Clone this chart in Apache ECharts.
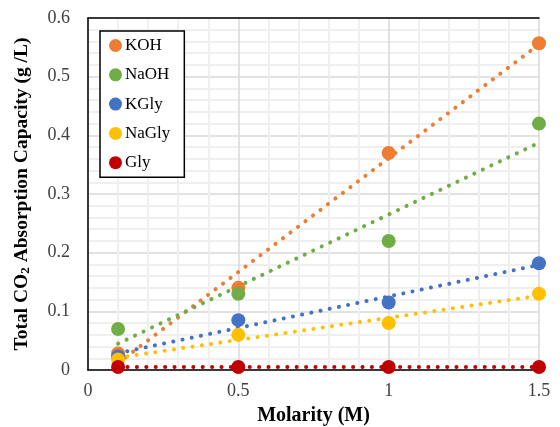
<!DOCTYPE html>
<html><head><meta charset="utf-8">
<script src="https://cdn.jsdelivr.net/npm/echarts@6/dist/echarts.min.js"></script>
<style>html,body{margin:0;padding:0;background:#fff}#c{width:560px;height:427px}</style>
</head><body><div id="c"></div>
<script>
const molarity = [0.1, 0.5, 1.0, 1.5];
const seriesNames = ['KOH', 'NaOH', 'KGly', 'NaGly', 'Gly'];
const KOH = [0.028, 0.14, 0.37, 0.557];
const NaOH = [0.07, 0.13, 0.22, 0.42];
const KGly = [0.023, 0.085, 0.115, 0.182];
const NaGly = [0.018, 0.06, 0.08, 0.13];
const Gly = [0.005, 0.005, 0.005, 0.005];
const colors = ['#ED7D31', '#70AD47', '#4472C4', '#FFC000', '#C00000'];
const xTicks = [0, 0.5, 1, 1.5];
const yTicks = [0, 0.1, 0.2, 0.3, 0.4, 0.5, 0.6];

const values = [KOH, NaOH, KGly, NaGly, Gly];
function fit(xs, ys) {
  const n = xs.length;
  const mx = xs.reduce((a, b) => a + b, 0) / n;
  const my = ys.reduce((a, b) => a + b, 0) / n;
  let sxy = 0, sxx = 0;
  for (let i = 0; i < n; i++) { sxy += (xs[i] - mx) * (ys[i] - my); sxx += (xs[i] - mx) ** 2; }
  const m = sxy / sxx, b = my - m * mx;
  return [[xs[0], m * xs[0] + b], [xs[n - 1], m * xs[n - 1] + b]];
}
const serif = '"Liberation Serif", "Times New Roman", serif';
const series = [];
values.forEach((v, i) => {
  series.push({
    name: seriesNames[i] + ' trend', type: 'line', data: fit(molarity, v), symbol: 'none', z: 2,
    lineStyle: { color: colors[i], width: 4, type: [0.1, 9.3], cap: 'round' }, silent: true
  });
});
values.forEach((v, i) => {
  series.push({
    name: seriesNames[i], type: 'scatter', data: molarity.map((x, j) => [x, v[j]]),
    symbolSize: 14, itemStyle: { color: colors[i], opacity: 1 }, z: 3
  });
});

const chart = echarts.init(document.getElementById('c'), null, { renderer: 'canvas' });
chart.setOption({
  animation: false,
  color: colors,
  grid: { left: 88, right: 21, top: 18, bottom: 57, containLabel: false, outerBoundsMode: 'none' },
  legend: {
    data: seriesNames, orient: 'vertical', left: 100, top: 31,
    backgroundColor: '#fff', borderColor: '#000', borderWidth: 1.5,
    padding: [6, 14, 6, 9], itemGap: 12.3, itemWidth: 13, itemHeight: 14, icon: 'circle',
    textStyle: { fontFamily: serif, fontSize: 17, color: '#000', padding: [0, 0, 0, -2] }
  },
  xAxis: [{
    type: 'value', min: 0, max: 1.5, interval: 0.5,
    name: 'Molarity (M)', nameLocation: 'middle', nameGap: 36,
    nameTextStyle: { fontFamily: serif, fontSize: 20, fontWeight: 'bold', color: '#000' },
    axisLine: { show: true, lineStyle: { color: '#000', width: 1.5 } },
    axisTick: { show: false },
    axisLabel: { fontFamily: serif, fontSize: 18, color: '#404040', margin: 12 },
    splitLine: { show: true, lineStyle: { color: '#d9d9d9', width: 1.5 } },
    minorTick: { show: false, splitNumber: 5 },
    minorSplitLine: { show: true, lineStyle: { color: '#efefef', width: 2 } }
  }, {
    type: 'value', min: 0, max: 1.5, position: 'top',
    axisLine: { show: true, onZero: false, lineStyle: { color: '#000', width: 1.5 } },
    axisTick: { show: false }, axisLabel: { show: false }, splitLine: { show: false }
  }],
  yAxis: {
    type: 'value', min: 0, max: 0.6, interval: 0.1,
    name: '{a|Total CO}{s|2}{a| Absorption Capacity (g /L)}', nameLocation: 'middle', nameGap: 56, nameRotate: 90,
    nameTextStyle: {
      rich: {
        a: { fontFamily: serif, fontSize: 19.5, fontWeight: 'bold', color: '#000' },
        s: { fontFamily: serif, fontSize: 13, fontWeight: 'bold', color: '#000', verticalAlign: 'bottom', padding: [7, 0, 0, 0] }
      }
    },
    axisLine: { show: true, lineStyle: { color: '#000', width: 1.5 } },
    axisTick: { show: false },
    axisLabel: { fontFamily: serif, fontSize: 18, color: '#404040', margin: 18, formatter: v => String(+v.toFixed(1)) },
    splitLine: { show: true, lineStyle: { color: '#d9d9d9', width: 1.5 } },
    minorTick: { show: false, splitNumber: 5 },
    minorSplitLine: { show: true, lineStyle: { color: '#efefef', width: 2 } }
  },
  series: series
});
</script></body></html>
